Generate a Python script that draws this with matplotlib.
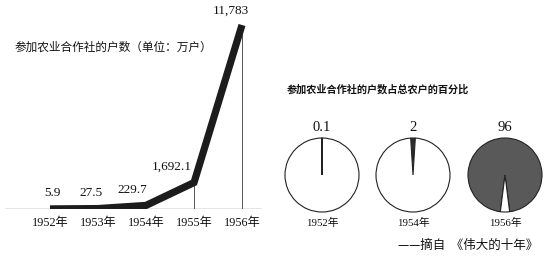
import matplotlib
matplotlib.use("Agg")
import matplotlib.pyplot as plt

plt.rcParams['font.family'] = ['Liberation Serif', 'Noto Sans CJK SC']

# left chart data
years = [1952, 1953, 1954, 1955, 1956]
year_labels = ['1952年', '1953年', '1954年', '1955年', '1956年']
households = [5.9, 27.5, 229.7, 1692.1, 11783]
value_labels = ['5.9', '27.5', '229.7', '1,692.1', '11,783']
label_offsets = [(2, 7), (-5, 7), (-10, 7), (-16, 7), (-8, 6)]

# right pies
pie_years = ['1952年', '1954年', '1956年']
pie_pct = [0.1, 2, 96]
pie_labels = ['0.1', '2', '96']
pie_fill = ['#2e2e2e', '#2e2e2e', '#595959']

W, H = 554, 262
fig = plt.figure(figsize=(W / 100, H / 100), dpi=100)
fig.patch.set_facecolor('white')


def fx(px):
    return px / W


def fy(py):
    return 1 - py / H


# ---- line chart ----
base_y = 209
top_y = 25
ax_h = (base_y - top_y) * 12000 / 11783
ax = fig.add_axes([fx(5), fy(base_y), fx(257), ax_h / H])
ax.set_ylim(0, 12000)
ax.set_xlim(1952 - 45 / 48, 1956 + 20 / 48)
ax.vlines(years, 0, households, color='#555555', lw=0.7)
ax.plot(years, households, color='#1c1c1c', lw=5.2,
        solid_capstyle='butt', solid_joinstyle='miter')
ax.axhline(0, color='#333333', lw=0.9)
for x, v, t, off in zip(years, households, value_labels, label_offsets):
    ax.annotate(t, (x, v), xytext=off, textcoords='offset points',
                ha='center', va='bottom', fontsize=9.5, color='#111111')
ax.set_xticks(years)
ax.set_xticklabels(year_labels, fontsize=8.8, color='#111111')
ax.tick_params(axis='x', length=0, pad=6)
ax.set_yticks([])
for s in ax.spines.values():
    s.set_visible(False)
ax.patch.set_alpha(0)

fig.text(fx(15), fy(47), '参加农业合作社的户数（单位：万户）',
         fontsize=8.4, va='center', ha='left', family='Noto Sans CJK SC',
         color='#111111')

# ---- pies ----
fig.text(fx(287), fy(89), '参加农业合作社的户数占总农户的百分比',
         fontsize=7.3, va='center', ha='left', family='Noto Sans CJK SC',
         weight='bold', color='#111111')

centers = [322, 413, 505]
r = 37
box = 44
for cx, p, lab, yl, col in zip(centers, pie_pct, pie_labels, pie_years, pie_fill):
    pax = fig.add_axes([fx(cx - box), fy(175 + box), fx(2 * box), 2 * box / H])
    pax.pie([p, 100 - p], colors=[col, 'white'], startangle=90 - p * 1.8,
            wedgeprops=dict(edgecolor='#222222', linewidth=0.8))
    pax.set_xlim(-box / r, box / r)
    pax.set_ylim(-box / r, box / r)
    pax.set_aspect('equal')
    fig.text(fx(cx), fy(128), lab, fontsize=10.5, ha='center', va='center',
             color='#111111')
    fig.text(fx(cx), fy(223), yl, fontsize=7.8, ha='center', va='center',
             color='#111111')

fig.text(fx(538), fy(245), '——摘自  《伟大的十年》', fontsize=9,
         ha='right', va='center', family=['Noto Sans CJK SC', 'DejaVu Sans'],
         color='#111111')

fig.savefig('out.png', dpi=100, facecolor='white')
